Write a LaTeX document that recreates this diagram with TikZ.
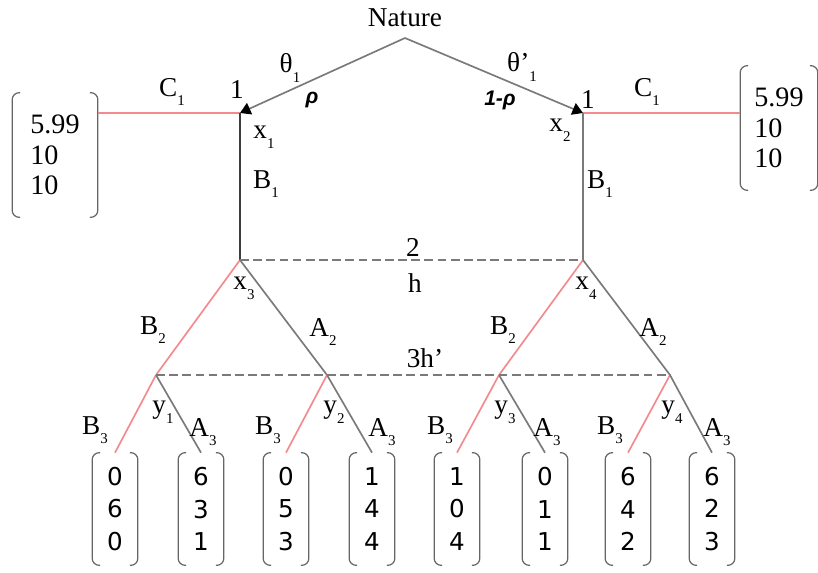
\documentclass[tikz,border=0pt]{standalone}
\usepackage{fontspec}
\setmainfont{Liberation Serif}
\setsansfont{Liberation Sans}
\newfontfamily\numfont{DejaVu Sans}
\usetikzlibrary{arrows.meta}
\definecolor{branchA}{HTML}{7A7A7A}
\definecolor{branchB}{HTML}{F28A8E}
\definecolor{brkcol}{HTML}{666666}
\newcommand{\dn}[1]{\raisebox{-5.5pt}{\fontsize{8.5}{9}\selectfont #1}}

\begin{document}
\begin{tikzpicture}[
  x=0.02cm, y=-0.02cm,
  lbl/.style={inner sep=1pt, font=\fontsize{15.5}{17}\selectfont},
  prob/.style={inner sep=1pt, font=\fontsize{12}{13}\sffamily\bfseries\itshape},
  leaf/.style={minimum width=0.9cm, minimum height=2.24cm, inner sep=0pt, align=center, font=\fontsize{14}{18.7}\numfont},
  side/.style={minimum height=2.48cm, inner sep=0pt, align=left, font=\fontsize{16}{17.5}\selectfont},
  gline/.style={draw=branchA, line width=0.95pt},
  pline/.style={draw=branchB, line width=0.95pt},
  infoset/.style={draw=branchA, line width=0.75pt, dash pattern=on 5pt off 2.5pt},
  brk/.style={draw=brkcol, line width=0.7pt, rounded corners=4pt},
  tip/.style={-{Triangle[length=6pt, width=7pt, color=black]}}
]
  \useasboundingbox (0,0) rectangle (818,572);

  % Nature move
  \coordinate (root) at (405,38);
  \node[lbl] (nature) at (405,18) {Nature};

  % decision points
  \coordinate (x1) at (240,113);
  \coordinate (x2) at (583,113);
  \coordinate (x3) at (240,260);
  \coordinate (x4) at (583,260);
  \coordinate (y1) at (156,375);
  \coordinate (y2) at (327,375);
  \coordinate (y3) at (499,375);
  \coordinate (y4) at (670,375);

  % payoffs
  \node[side, minimum width=1.7cm] (pl) at (55,155) {5.99\\10\\10};
  \node[side, minimum width=1.54cm] (pr) at (779,128) {5.99\\10\\10};
  \foreach \i/\xx/\pay in {1/115/{0\\6\\0}, 2/201/{6\\3\\1}, 3/286/{0\\5\\3}, 4/372/{1\\4\\4},
                           5/457/{1\\0\\4}, 6/545/{0\\1\\1}, 7/628/{6\\4\\2}, 8/712/{6\\2\\3}}
    \node[leaf] (b\i) at (\xx,509) {\pay};

  \foreach \b in {pl,pr,b1,b2,b3,b4,b5,b6,b7,b8}
    \draw[brk] ([xshift=0.16cm]\b.north west) -- (\b.north west) -- (\b.south west) -- ([xshift=0.16cm]\b.south west)
               ([xshift=-0.16cm]\b.north east) -- (\b.north east) -- (\b.south east) -- ([xshift=-0.16cm]\b.south east);

  % branches
  \draw[gline, tip] (root) -- (x1);
  \draw[gline, tip] (root) -- (x2);
  \draw[pline] (x1) -- (x1 -| pl.east);
  \draw[pline] (x2) -- (x2 -| pr.west);
  \draw[gline, draw=branchA!50!black] (x1) -- (x3);
  \draw[gline] (x2) -- (x4);
  \draw[pline] (x3) -- (y1);
  \draw[gline] (x3) -- (y2);
  \draw[pline] (x4) -- (y3);
  \draw[gline] (x4) -- (y4);
  \draw[pline] (y1) -- (b1.north);
  \draw[gline] (y1) -- (b2.north);
  \draw[pline] (y2) -- (b3.north);
  \draw[gline] (y2) -- (b4.north);
  \draw[pline] (y3) -- (b5.north);
  \draw[gline] (y3) -- (b6.north);
  \draw[pline] (y4) -- (b7.north);
  \draw[gline] (y4) -- (b8.north);

  % information sets
  \draw[infoset] (x3) -- (x4);
  \draw[infoset] (y1) -- (y4);
  \node[lbl] (i2) at (413,247) {2};
  \node[lbl] (ih) at (415,283) {h};
  \node[lbl] (i3) at (425,358) {3h'};

  % labels
  \node[lbl] (th1) at (290,68) {θ\dn{1}};
  \node[prob] (rho) at (312,100) {ρ};
  \node[lbl] (th2) at (522,67) {θ'\dn{1}};
  \node[prob] (rho2) at (500,100) {1-ρ};
  \node[lbl] (one1) at (237,90) {1};
  \node[lbl] (one2) at (588,100) {1};
  \node[lbl] (c1) at (172,92) {C\dn{1}};
  \node[lbl] (c2) at (647,92) {C\dn{1}};
  \node[lbl] (lx1) at (264,137) {x\dn{1}};
  \node[lbl] (lb1) at (266,184) {B\dn{1}};
  \node[lbl] (lx2) at (560,130) {x\dn{2}};
  \node[lbl] (lb2) at (600,184) {B\dn{1}};
  \node[lbl] (lx3) at (244,288) {x\dn{3}};
  \node[lbl] (lx4) at (586,288) {x\dn{4}};
  \node[lbl] (b2l) at (153,330) {B\dn{2}};
  \node[lbl] (a2l) at (323,332) {A\dn{2}};
  \node[lbl] (b2r) at (503,330) {B\dn{2}};
  \node[lbl] (a2r) at (653,332) {A\dn{2}};
  \node[lbl] (b3a) at (95,430) {B\dn{3}};
  \node[lbl] (ly1) at (163,412) {y\dn{1}};
  \node[lbl] (a3a) at (203,432) {A\dn{3}};
  \node[lbl] (b3b) at (268,430) {B\dn{3}};
  \node[lbl] (ly2) at (334,412) {y\dn{2}};
  \node[lbl] (a3b) at (382,432) {A\dn{3}};
  \node[lbl] (b3c) at (440,430) {B\dn{3}};
  \node[lbl] (ly3) at (505,412) {y\dn{3}};
  \node[lbl] (a3c) at (547,432) {A\dn{3}};
  \node[lbl] (b3d) at (610,430) {B\dn{3}};
  \node[lbl] (ly4) at (672,412) {y\dn{4}};
  \node[lbl] (a3d) at (717,432) {A\dn{3}};
\end{tikzpicture}
\end{document}
